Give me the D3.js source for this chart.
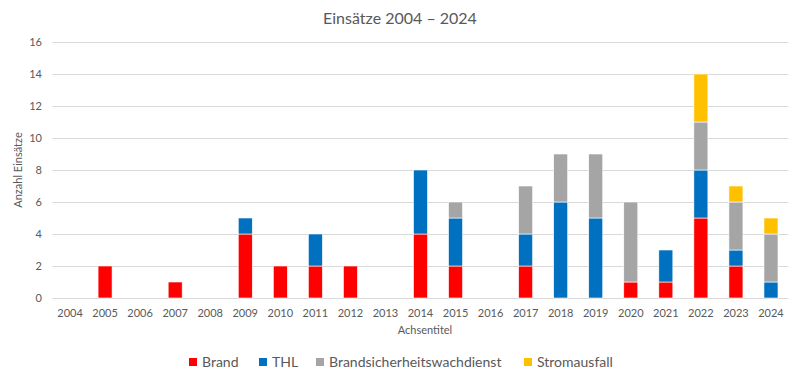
<!DOCTYPE html>
<html>
<head>
<meta charset="utf-8">
<script src="https://cdn.jsdelivr.net/npm/d3@7"></script>
<style>
  body { margin: 0; background: #fff; }
  text { font-family: Lato, "Open Sans", sans-serif; fill: #595959; }
</style>
</head>
<body>
<svg id="chart" width="799" height="381"></svg>
<script>
var years = ["2004", "2005", "2006", "2007", "2008", "2009", "2010", "2011", "2012", "2013", "2014",
    "2015", "2016", "2017", "2018", "2019", "2020", "2021", "2022", "2023", "2024"];
var brand = [0, 2, 0, 1, 0, 4, 2, 2, 2, 0, 4, 2, 0, 2, 0, 0, 1, 1, 5, 2, 0];
var thl = [0, 0, 0, 0, 0, 1, 0, 2, 0, 0, 4, 3, 0, 2, 6, 5, 0, 2, 3, 1, 1];
var bsw = [0, 0, 0, 0, 0, 0, 0, 0, 0, 0, 0, 1, 0, 3, 3, 4, 5, 0, 3, 3, 3];
var strom = [0, 0, 0, 0, 0, 0, 0, 0, 0, 0, 0, 0, 0, 0, 0, 0, 0, 0, 3, 1, 1];
var seriesNames = ["Brand", "THL", "Brandsicherheitswachdienst", "Stromausfall"];
var colors = ["#FF0000", "#0070C0", "#A5A5A5", "#FFC000"];
var yTicks = [0, 2, 4, 6, 8, 10, 12, 14, 16];

var svg = d3.select("#chart");

var rows = years.map(function(y, i) {
    return { year: y, Brand: brand[i], THL: thl[i], Brandsicherheitswachdienst: bsw[i], Stromausfall: strom[i] };
});
var stacked = d3.stack().keys(seriesNames)(rows);

var x = d3.scaleBand().domain(years).range([52.5, 788.5]).paddingInner(0.6).paddingOuter(0.3);
var y = d3.scaleLinear().domain([0, 16]).range([298, 42]);

// gridlines
svg.append("g").selectAll("line")
    .data(yTicks)
    .enter().append("line")
    .attr("x1", 52.5).attr("x2", 788.5)
    .attr("y1", function(d) { return Math.round(y(d)) + 0.5; })
    .attr("y2", function(d) { return Math.round(y(d)) + 0.5; })
    .attr("stroke", "#D9D9D9").attr("stroke-width", 1);

// y labels
svg.append("g").selectAll("text")
    .data(yTicks)
    .enter().append("text")
    .attr("x", 42).attr("y", function(d) { return y(d); })
    .attr("dy", "0.35em").attr("text-anchor", "end")
    .attr("font-size", 11)
    .text(function(d) { return d; });

// x labels
svg.append("g").selectAll("text")
    .data(years)
    .enter().append("text")
    .attr("x", function(d) { return x(d) + x.bandwidth() / 2; })
    .attr("y", 317).attr("text-anchor", "middle")
    .attr("font-size", 11)
    .text(function(d) { return d; });

// bars
svg.append("g").selectAll("g")
    .data(stacked)
    .enter().append("g")
    .attr("fill", function(d, i) { return colors[i]; })
    .selectAll("rect")
    .data(function(d) { return d.filter(function(p) { return p[1] > p[0]; }); })
    .enter().append("rect")
    .attr("x", function(d) { return x(d.data.year); })
    .attr("width", x.bandwidth())
    .attr("y", function(d) { return y(d[1]); })
    .attr("height", function(d) { return y(d[0]) - y(d[1]); })
    .attr("stroke", "#ffffff").attr("stroke-width", 0.6);

// title
svg.append("text")
    .attr("x", 400).attr("y", 24).attr("text-anchor", "middle")
    .attr("font-size", 16)
    .text("Einsätze 2004 – 2024");

// axis titles
svg.append("text")
    .attr("transform", "translate(22,170) rotate(-90)")
    .attr("text-anchor", "middle").attr("font-size", 11)
    .text("Anzahl Einsätze");

svg.append("text")
    .attr("x", 425).attr("y", 334).attr("text-anchor", "middle")
    .attr("font-size", 11)
    .text("Achsentitel");

// legend
var legendX = [189, 259, 316, 524];
var legend = svg.append("g").selectAll("g")
    .data(seriesNames)
    .enter().append("g")
    .attr("transform", function(d, i) { return "translate(" + legendX[i] + ",362)"; });
legend.append("rect")
    .attr("x", 0).attr("y", -4).attr("width", 8).attr("height", 8)
    .attr("fill", function(d, i) { return colors[i]; });
legend.append("text")
    .attr("x", 13).attr("dy", "0.35em")
    .attr("font-size", 14)
    .text(function(d) { return d; });
</script>
</body>
</html>
